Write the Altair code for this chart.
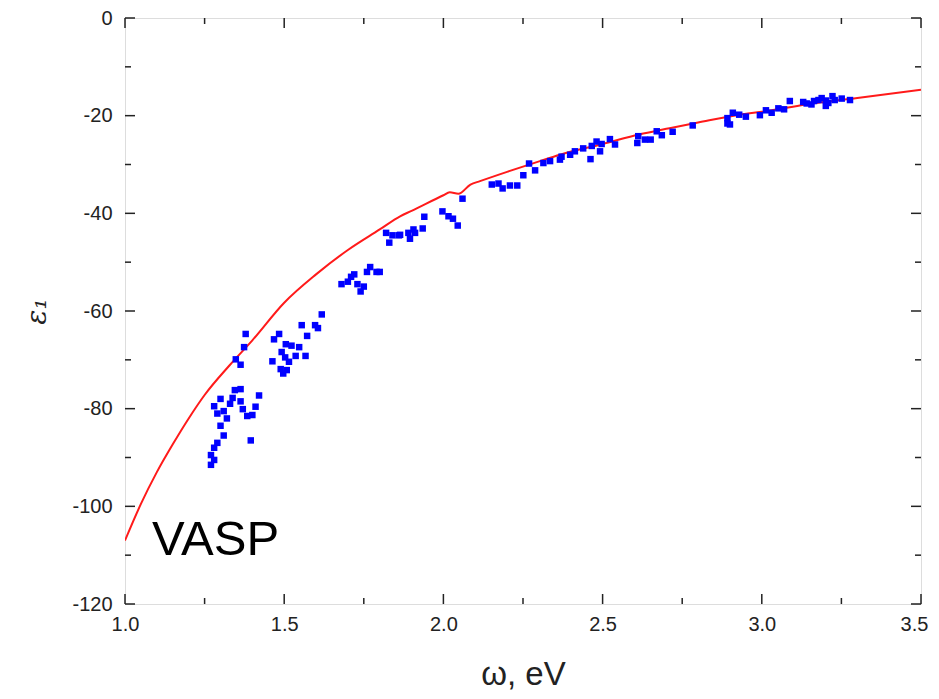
import altair as alt
import pandas as pd

# Red curve (calculation)
curve_w = [1.0, 1.05, 1.1, 1.15, 1.2, 1.25, 1.33, 1.4, 1.5, 1.6, 1.7, 1.8, 1.864, 1.9, 2.0, 2.02, 2.047, 2.085,
           2.115, 2.2, 2.303, 2.366, 2.5, 2.617, 2.7, 2.8, 2.93, 3.0, 3.14, 3.3, 3.5]
curve_e = [-107, -99.5, -93, -87.3, -82, -77.2, -71, -66, -58.3, -52.5, -47.5, -43.3, -40.6, -39.5, -36.3, -35.7, -36.0, -34.1,
           -33.4, -31.5, -29.3, -28.0, -25.8, -23.8, -22.7, -21.4, -19.8, -19.2, -17.7, -16.4, -14.7]

# Blue squares (experiment)
pts_w = [1.27, 1.27, 1.28, 1.28, 1.29, 1.29, 1.30, 1.30, 1.31, 1.31, 1.32, 1.33, 1.28,
         1.618, 1.555, 1.597, 1.606, 1.572, 1.484, 1.468, 1.379, 1.374, 1.348, 1.363,
         1.505, 1.523, 1.547, 1.492, 1.536, 1.567, 1.503, 1.515, 1.463, 1.489, 1.508, 1.497,
         1.345, 1.363, 1.338, 1.421, 1.363, 1.410, 1.370, 1.384, 1.400, 1.395,
         1.68, 1.70, 1.71, 1.72, 1.73, 1.74, 1.75, 1.76, 1.77, 1.79, 1.80,
         1.83, 1.82, 1.84, 1.86,
         1.864, 1.890, 1.906, 1.911, 1.895, 1.935, 1.940, 1.997, 2.016, 2.030, 2.045, 2.060,
         2.152, 2.173, 2.186, 2.209, 2.232, 2.251, 2.269, 2.288, 2.314, 2.335, 2.366,
         2.371, 2.398, 2.413, 2.439, 2.462, 2.466, 2.481, 2.497, 2.492, 2.523, 2.539,
         2.612, 2.609, 2.633, 2.651, 2.670, 2.686, 2.720, 2.783,
         2.892, 2.892, 2.900, 2.909, 2.929, 2.950, 2.994, 3.013, 3.031, 3.052, 3.070, 3.088,
         3.130, 3.141, 3.156, 3.164, 3.178, 3.188, 3.201, 3.201, 3.209, 3.222, 3.229, 3.251, 3.277]
pts_e = [-91.5, -89.5, -88, -90.5, -87, -81, -78, -83.5, -80.5, -85.5, -82, -79, -79.5,
         -60.7, -62.9, -62.9, -63.5, -65.1, -64.7, -65.8, -64.7, -67.4, -69.9, -71.0,
         -66.8, -67.1, -67.4, -68.4, -69.2, -69.2, -69.5, -70.4, -70.3, -71.9, -72.1, -72.8,
         -76.2, -76.0, -77.8, -77.3, -78.5, -79.6, -80.1, -81.5, -81.3, -86.5,
         -54.5, -54.0, -53.0, -52.5, -54.5, -56.0, -55.0, -52.0, -51.0, -52.0, -52.0,
         -46.0, -44.0, -44.5, -44.5,
         -44.4, -44.0, -43.3, -44.0, -45.2, -43.1, -40.7, -39.6, -40.6, -41.1, -42.5, -37.0,
         -34.1, -33.9, -34.9, -34.3, -34.3, -32.2, -29.8, -31.2, -29.7, -29.3, -29.0,
         -28.4, -28.0, -27.3, -26.7, -28.9, -26.2, -25.3, -25.8, -27.3, -24.8, -25.9,
         -24.2, -25.6, -24.9, -24.9, -23.2, -24.0, -23.3, -22.0,
         -20.5, -21.6, -21.8, -19.4, -19.8, -20.2, -19.9, -18.9, -19.4, -18.5, -18.7, -17.0,
         -17.2, -17.5, -17.7, -17.0, -16.8, -16.4, -16.9, -18.0, -17.4, -16.0, -16.8, -16.5, -16.8]

x_major = [1.0, 1.5, 2.0, 2.5, 3.0, 3.5]
x_minor = [1.25, 1.75, 2.25, 2.75, 3.25]
y_major = [0, -20, -40, -60, -80, -100, -120]
y_minor = [-10, -30, -50, -70, -90, -110]

W, H = 796, 586
MAJ, MIN = 10, 6
FONT = "Liberation Sans"

curve_df = pd.DataFrame({"w": curve_w, "e": curve_e})
pts_df = pd.DataFrame({"w": pts_w, "e": pts_e})
xt_df = pd.DataFrame({"v": x_major + x_minor, "len": [MAJ] * len(x_major) + [MIN] * len(x_minor)})
yt_df = pd.DataFrame({"v": y_major + y_minor, "len": [MAJ] * len(y_major) + [MIN] * len(y_minor)})

xs = alt.Scale(domain=[1.0, 3.5], nice=False, zero=False)
ys = alt.Scale(domain=[-120, 0], nice=False, zero=False)

x_axis = alt.Axis(values=x_major, format=".1f", ticks=False, domain=False, grid=False,
                  labelFont=FONT, labelFontSize=20, labelColor="#222", labelPadding=10,
                  labelFlush=False, labelOverlap=False,
                  labelOffset={"condition": {"test": "datum.value == 3.5", "value": -7}, "value": 0},
                  title="ω, eV", titleFont=FONT, titleFontSize=33, titleFontWeight="normal",
                  titleColor="#222", titlePadding=24)
y_axis = alt.Axis(values=y_major, ticks=False, domain=False, grid=False,
                  labelExpr="'' + datum.value",
                  labelFont=FONT, labelFontSize=20, labelColor="#222", labelPadding=13,
                  labelFlush=False, labelOverlap=False,
                  title="ε₁", titleFont="DejaVu Serif", titleFontSize=28, titleFontWeight="normal",
                  titleFontStyle="italic", titleColor="#222", titlePadding=20)

line = alt.Chart(curve_df).mark_line(color="#ff1a1a", strokeWidth=2, clip=True,
                                     interpolate="monotone").encode(
    x=alt.X("w:Q", scale=xs, axis=x_axis),
    y=alt.Y("e:Q", scale=ys, axis=y_axis),
    order="w:Q",
)

pts = alt.Chart(pts_df).mark_square(color="#0000ff", opacity=1, size=42, filled=True).encode(
    x=alt.X("w:Q", scale=xs),
    y=alt.Y("e:Q", scale=ys),
)

tick_color = "#222"


def xticks(lenval, top):
    d = xt_df[xt_df["len"] == lenval]
    return alt.Chart(d).mark_rule(color=tick_color, strokeWidth=1.5).encode(
        x=alt.X("v:Q", scale=xs),
        y=alt.value(0 if top else H),
        y2=alt.value(lenval if top else H - lenval),
    )


def yticks(lenval, right):
    d = yt_df[yt_df["len"] == lenval]
    return alt.Chart(d).mark_rule(color=tick_color, strokeWidth=1.5).encode(
        y=alt.Y("v:Q", scale=ys),
        x=alt.value(W if right else 0),
        x2=alt.value(W - lenval if right else lenval),
    )


ticks = [xticks(MAJ, False), xticks(MIN, False), xticks(MAJ, True), xticks(MIN, True),
         yticks(MAJ, False), yticks(MIN, False), yticks(MAJ, True), yticks(MIN, True)]

label_df = pd.DataFrame({"w": [1.085], "e": [-110.0], "t": ["VASP"]})
label = alt.Chart(label_df).mark_text(font=FONT, fontSize=49, align="left", baseline="alphabetic",
                                      color="#000").encode(
    x=alt.X("w:Q", scale=xs), y=alt.Y("e:Q", scale=ys), text="t:N")

chart = alt.layer(line, pts, *ticks, label).properties(
    width=W, height=H,
    autosize=alt.AutoSizeParams(type="none"),
    padding={"left": 117, "top": 10, "right": 10, "bottom": 87},
).configure_view(stroke="#222", strokeWidth=1.5).configure(background="white")

chart.save("out.html", embed_options={"renderer": "svg", "actions": False})
